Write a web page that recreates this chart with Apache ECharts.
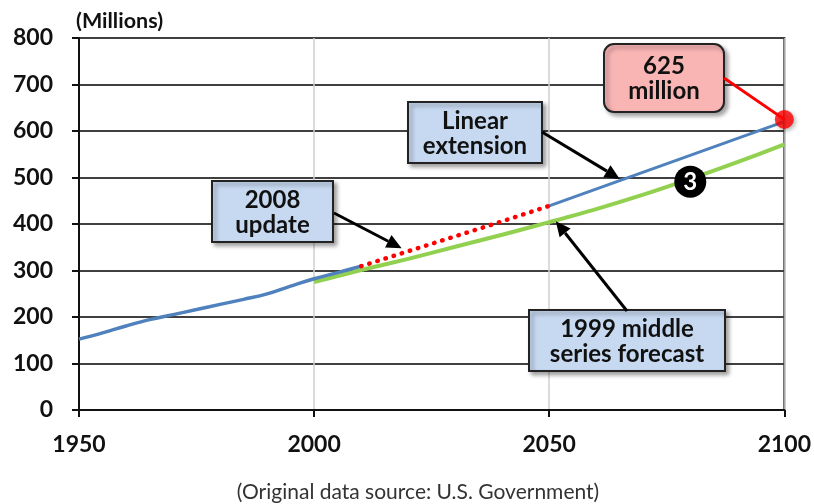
<!DOCTYPE html>
<html>
<head>
<meta charset="utf-8">
<script src="https://cdn.jsdelivr.net/npm/echarts@6/dist/echarts.min.js"></script>
<style>
  html, body { margin: 0; padding: 0; background: #fff; }
  #chart { width: 814px; height: 504px; }
</style>
</head>
<body>
<div id="chart"></div>
<script>
// U.S. population, millions
const historyYears  = [1950, 1955, 1960, 1965, 1970, 1975, 1980, 1985, 1990, 1995, 2000, 2005, 2010];
const historyValues = [152.3, 165.9, 180.7, 194.3, 205.1, 216.0, 227.2, 237.9, 249.6, 266.3, 282.2, 295.5, 309.3];

const update2008Years  = [2010, 2020, 2030, 2040, 2050];
const update2008Values = [309.3, 341.4, 373.5, 405.7, 439.0];

const linearYears  = [2050, 2100];
const linearValues = [439.0, 620.0];

const middle1999Years  = [2000, 2010, 2020, 2030, 2040, 2050, 2060, 2070, 2080, 2090, 2100];
const middle1999Values = [275.0, 301.0, 325.0, 351.0, 377.0, 404.0, 432.0, 463.0, 497.0, 533.0, 571.0];

const endpointYear = 2100;
const endpointValue = 625;

const yTicks = [0, 100, 200, 300, 400, 500, 600, 700, 800];
const xTicks = [1950, 2000, 2050, 2100];

const pairs = (xs, ys) => xs.map((x, i) => [x, ys[i]]);

const FONT = 'Lato, "Open Sans", sans-serif';
const chart = echarts.init(document.getElementById('chart'), null, { renderer: 'canvas' });

chart.setOption({
  animation: false,
  backgroundColor: '#ffffff',
  grid: {
    left: 79, right: 27, top: 38, bottom: 94,
    show: true, borderColor: '#333', borderWidth: 2
  },
  xAxis: {
    type: 'value',
    min: xTicks[0], max: xTicks[xTicks.length - 1], interval: 50,
    axisLine: { show: true, onZero: false, lineStyle: { color: '#111', width: 2 } },
    axisTick: { show: true, length: 7, lineStyle: { color: '#111', width: 2 } },
    axisLabel: { color: '#111', fontFamily: FONT, fontWeight: 'bold', fontSize: 23, margin: 23,
                 formatter: v => String(v) },
    splitLine: { show: true, lineStyle: { color: '#cfcfcf', width: 1.5 } }
  },
  yAxis: {
    type: 'value',
    min: yTicks[0], max: yTicks[yTicks.length - 1], interval: 100,
    axisLine: { show: true, lineStyle: { color: '#111', width: 2 } },
    axisTick: { show: true, length: 7, lineStyle: { color: '#111', width: 2 } },
    axisLabel: { color: '#111', fontFamily: FONT, fontWeight: 'bold', fontSize: 23, margin: 26 },
    splitLine: { show: true, lineStyle: { color: '#404040', width: 2 } }
  },
  series: [
    {
      name: 'History', type: 'line', data: pairs(historyYears, historyValues),
      showSymbol: false, smooth: 0.4, z: 4,
      lineStyle: { color: '#4f81bd', width: 3.5 }
    },
    {
      name: '1999 middle series forecast', type: 'line', data: pairs(middle1999Years, middle1999Values),
      showSymbol: false, smooth: 0.3, z: 3,
      lineStyle: { color: '#92d050', width: 4 }
    },
    {
      name: '2008 update', type: 'line', data: pairs(update2008Years, update2008Values),
      showSymbol: false, z: 5,
      lineStyle: { color: '#ff0000', width: 4.5, type: [0.5, 8], cap: 'round' }
    },
    {
      name: 'Linear extension', type: 'line', data: pairs(linearYears, linearValues),
      showSymbol: false, z: 4,
      lineStyle: { color: '#4f81bd', width: 3 }
    },
    {
      name: 'Endpoint', type: 'scatter', data: [[endpointYear, endpointValue]],
      symbolSize: 19, z: 10,
      itemStyle: { color: '#ff0000', shadowBlur: 4, shadowOffsetX: 2, shadowOffsetY: 2, shadowColor: 'rgba(0,0,0,0.35)' }
    }
  ]
});

// Annotation helpers
const px = (x, y) => chart.convertToPixel({ gridIndex: 0 }, [x, y]);

function arrow(from, to, color) {
  const dx = to[0] - from[0], dy = to[1] - from[1];
  const len = Math.hypot(dx, dy);
  const ux = dx / len, uy = dy / len;
  const head = 15, half = 7;
  const bx = to[0] - ux * head, by = to[1] - uy * head;
  return [
    { type: 'line', z: 50, shape: { x1: from[0], y1: from[1], x2: bx, y2: by },
      style: { stroke: color, lineWidth: 3 } },
    { type: 'polygon', z: 50, shape: { points: [
        [to[0], to[1]],
        [bx - uy * half, by + ux * half],
        [bx + uy * half, by - ux * half]
      ] }, style: { fill: color } }
  ];
}

function box(x, y, w, h, lines, fill, radius) {
  return {
    type: 'group', z: 60,
    children: [
      { type: 'rect', shape: { x: x, y: y, width: w, height: h, r: radius || 0 },
        style: { fill: fill, stroke: '#222', lineWidth: 2,
                 shadowBlur: 4, shadowOffsetX: 3, shadowOffsetY: 3, shadowColor: 'rgba(0,0,0,0.35)' } },
      { type: 'text', style: {
          x: x + w / 2, y: y + h / 2 + 1, text: lines.join('\n'),
          align: 'center', verticalAlign: 'middle',
          font: 'bold 24px ' + FONT, fill: '#111', lineHeight: 25 } }
    ]
  };
}

const dot = px(endpointYear, endpointValue);
const circle3 = px(2080, 491);

const graphics = [];
graphics.push(...arrow([334, 213], px(2018.6, 348), '#000'));
graphics.push(...arrow([542, 132], px(2065, 497), '#000'));
graphics.push(...arrow([627, 311], px(2051.4, 406), '#000'));
graphics.push({ type: 'line', z: 55, shape: { x1: 724, y1: 78, x2: dot[0], y2: dot[1] },
                style: { stroke: '#ff0000', lineWidth: 3 } });
graphics.push(box(212, 181, 121, 61, ['2008', 'update'], '#c6d9f1'));
graphics.push(box(408, 102, 134, 61, ['Linear', 'extension'], '#c6d9f1'));
graphics.push(box(529, 310, 196, 61, ['1999 middle', 'series forecast'], '#c6d9f1'));
graphics.push(box(604, 44, 120, 68, ['625', 'million'], '#f9b4b4', 10));
graphics.push({ type: 'circle', z: 60, shape: { cx: circle3[0], cy: circle3[1], r: 16 }, style: { fill: '#000' } });
graphics.push({ type: 'text', z: 61, style: { x: circle3[0], y: circle3[1] + 1, text: '3', align: 'center', verticalAlign: 'middle',
                font: 'bold 24px ' + FONT, fill: '#fff' } });
graphics.push({ type: 'text', z: 61, style: { x: 76, y: 21, text: '(Millions)', align: 'left', verticalAlign: 'middle',
                font: 'bold 21.5px ' + FONT, fill: '#111' } });
graphics.push({ type: 'text', z: 61, style: { x: 418, y: 492, text: '(Original data source: U.S. Government)', align: 'center', verticalAlign: 'middle',
                font: '21px ' + FONT, fill: '#333' } });

chart.setOption({ graphic: graphics });
</script>
</body>
</html>
